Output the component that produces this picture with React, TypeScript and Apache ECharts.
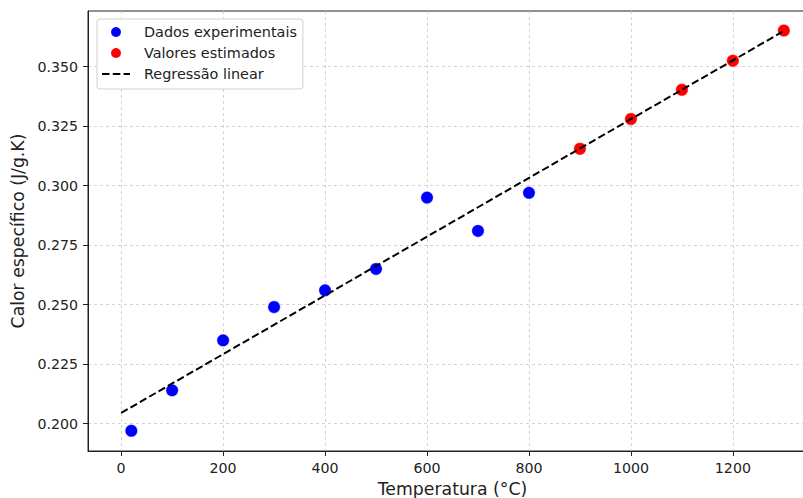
import React, { useEffect, useRef } from "react";
import * as echarts from "echarts";

const expTemps = [20, 100, 200, 300, 400, 500, 600, 700, 800];
const expValues = [0.197, 0.214, 0.235, 0.249, 0.256, 0.265, 0.295, 0.281, 0.297];
const estTemps = [900, 1000, 1100, 1200, 1300];
const estValues = [0.3155, 0.328, 0.3403, 0.3525, 0.3652];
const regTemps = [0, 1300];
const regValues = [0.2045, 0.365];
const xTicks = [0, 200, 400, 600, 800, 1000, 1200];
const yTicks = [0.2, 0.225, 0.25, 0.275, 0.3, 0.325, 0.35];

const FONT = "DejaVu Sans";

export default function App() {
  const ref = useRef<HTMLDivElement>(null);
  useEffect(() => {
    if (!ref.current) return;
    const chart = echarts.init(ref.current, undefined, { renderer: "svg" });
    const gridLine = { show: true, lineStyle: { color: "#c8c8c8", width: 0.8, type: [3, 3] as any } };
    chart.setOption({
      animation: false,
      backgroundColor: "#ffffff",
      grid: {
        left: 88,
        top: 11,
        bottom: 47,
        right: 1,
        outerBoundsMode: "none",
        containLabel: false,
        show: true,
        borderColor: "#222",
        borderWidth: 1,
        backgroundColor: "transparent",
      },
      legend: {
        orient: "vertical",
        left: 97,
        top: 19,
        padding: [5, 6, 7, 4],
        itemGap: 5,
        itemWidth: 28,
        itemHeight: 12,
        backgroundColor: "#ffffff",
        borderColor: "#d0d0d0",
        borderWidth: 1,
        borderRadius: 3,
        textStyle: { fontFamily: FONT, fontSize: 14.4, color: "#222", padding: [0, 0, 0, 9], lineHeight: 16 },
        data: [
          { name: "Dados experimentais", icon: "circle" },
          { name: "Valores estimados", icon: "circle" },
          { name: "Regressão linear", itemStyle: { opacity: 0 } },
        ],
      },
      xAxis: {
        type: "value",
        min: -65,
        max: 1365,
        name: "Temperatura (°C)",
        nameLocation: "middle",
        nameGap: 27,
        nameTextStyle: { fontFamily: FONT, fontSize: 17.3, color: "#222", lineHeight: 19 },
        axisLine: { show: true, onZero: false, lineStyle: { color: "#222", width: 1 } },
        axisTick: { show: true, length: 5, lineStyle: { color: "#222" }, customValues: xTicks },
        axisLabel: {
          fontFamily: FONT,
          fontSize: 14.2,
          color: "#222",
          margin: 10,
          customValues: xTicks,
          formatter: (v: number) => String(Math.round(v)),
        },
        splitLine: gridLine,
      },
      yAxis: {
        type: "value",
        min: 0.1885,
        max: 0.3734,
        name: "Calor específico (J/g.K)",
        nameLocation: "middle",
        nameGap: 50,
        nameTextStyle: { fontFamily: FONT, fontSize: 17.3, color: "#222" },
        axisLine: { show: true, onZero: false, lineStyle: { color: "#222", width: 1 } },
        axisTick: { show: true, length: 5, lineStyle: { color: "#222" }, customValues: yTicks },
        axisLabel: {
          fontFamily: FONT,
          fontSize: 14.2,
          color: "#222",
          margin: 10,
          customValues: yTicks,
          formatter: (v: number) => v.toFixed(3),
        },
        splitLine: gridLine,
      },
      series: [
        {
          name: "Dados experimentais",
          type: "scatter",
          symbolSize: 12.5,
          itemStyle: { color: "#0000ff", opacity: 1, borderColor: "#ffffff", borderWidth: 0.5 },
          data: expTemps.map((t, i) => [t, expValues[i]]),
          z: 2,
        },
        {
          name: "Valores estimados",
          type: "scatter",
          symbolSize: 12.5,
          itemStyle: { color: "#ff0000", opacity: 1, borderColor: "#ffffff", borderWidth: 0.5 },
          data: estTemps.map((t, i) => [t, estValues[i]]),
          z: 2,
        },
        {
          name: "Regressão linear",
          type: "line",
          symbol: "none",
          lineStyle: { color: "#000000", width: 2, type: [7.5, 3.3] as any },
          itemStyle: { color: "#000000" },
          data: regTemps.map((t, i) => [t, regValues[i]]),
          z: 3,
        },
      ],
    });
    return () => chart.dispose();
  }, []);
  return (
    <div style={{ position: "absolute", left: 0, top: 0, width: 803, height: 498, overflow: "hidden" }}>
      <div ref={ref} style={{ width: 818, height: 498 }} />
    </div>
  );
}
